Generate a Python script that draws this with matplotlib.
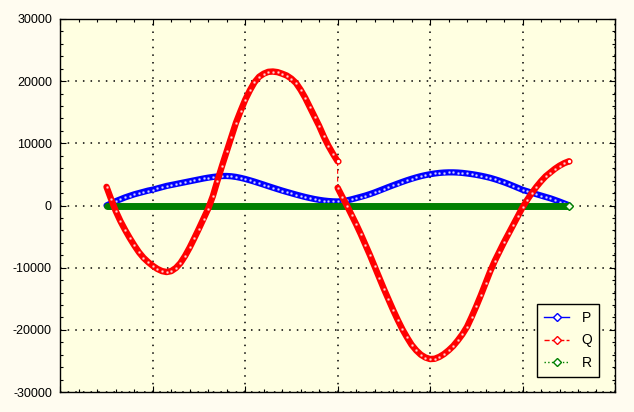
import matplotlib
matplotlib.use("Agg")
import matplotlib.pyplot as plt
from matplotlib.lines import Line2D
import numpy as np

# sample grid (step 0.5)
x_p = np.linspace(5, 55, 101)
x_q1 = np.linspace(5, 30, 51)
x_q2 = np.linspace(30, 55, 51)

p_vals = [0, 350, 700, 1000, 1300, 1550, 1800, 2000, 2200, 2400,
          2550, 2750, 2950, 3150, 3300, 3450, 3600, 3750, 3900, 4050,
          4200, 4350, 4480, 4590, 4680, 4740, 4750, 4700, 4600, 4450,
          4270, 4060, 3840, 3600, 3360, 3110, 2870, 2630, 2400, 2180,
          1970, 1760, 1560, 1370, 1200, 1040, 910, 800, 720, 670,
          650, 700, 820, 990, 1190, 1390, 1600, 1840, 2100, 2390,
          2680, 2970, 3250, 3530, 3800, 4060, 4300, 4520, 4720, 4890,
          5030, 5150, 5240, 5300, 5330, 5330, 5300, 5240, 5150, 5050,
          4930, 4790, 4630, 4450, 4230, 3990, 3730, 3450, 3150, 2840,
          2530, 2290, 2050, 1820, 1600, 1380, 1160, 900, 630, 340,
          50]

q_vals1 = [3000, 1000, -900, -2500, -3900, -5200, -6400, -7500, -8400, -9100,
           -9700, -10200, -10550, -10700, -10550, -10050, -9250, -8100, -6750, -5250,
           -3700, -2100, -500, 1500, 4000, 6400, 8700, 11000, 13300, 15200,
           17000, 18500, 19800, 20700, 21200, 21500, 21550, 21450, 21200, 20900,
           20400, 19700, 18600, 17300, 15800, 14300, 12800, 11100, 9600, 8300,
           7100]

q_vals2 = [2850, 1400, 0, -1500, -3000, -4600, -6300, -8000, -9800, -11600,
           -13400, -15100, -16800, -18400, -19900, -21200, -22400, -23300, -24000, -24450,
           -24700, -24650, -24350, -23900, -23300, -22600, -21700, -20700, -19500, -17900,
           -16200, -14400, -12500, -10600, -8900, -7400, -5900, -4500, -3100, -1700,
           -300, 900, 2000, 3000, 3900, 4700, 5300, 5900, 6400, 6800,
           7100]

r_vals = [0] * len(x_p)

labels = ["P", "Q", "R"]
yticks = [-30000, -20000, -10000, 0, 10000, 20000, 30000]

fig = plt.figure(figsize=(6.34, 4.12), dpi=100, facecolor="#fffcf0")
ax = fig.add_axes([0.0951, 0.0485, 0.8749, 0.9054])
ax.set_facecolor("#ffffe1")

blue, red, green = "#0000ff", "#ff0000", "#008000"

# P
ax.plot(x_p, p_vals, color=blue, lw=4.5, solid_capstyle="round", zorder=2)
ax.plot(x_p, p_vals, ls="none", marker="o", ms=0.9, color="white", alpha=0.6,
        zorder=2.1)

# R
ax.plot(x_p, r_vals, color=green, lw=5.0, solid_capstyle="round", zorder=3)
ax.plot(x_p[-1:], r_vals[-1:], ls="none", marker="D", ms=4, mfc="#f0ffe0",
        mec=green, mew=1, zorder=3.1)

# Q: thin dashed through both pieces, thick band for each piece
ax.plot(np.concatenate([x_q1, x_q2]), q_vals1 + q_vals2, color=red, lw=0.8,
        ls=(0, (4, 3)), zorder=4)
for xs, ys in [(x_q1, q_vals1), (x_q2, q_vals2)]:
    ax.plot(xs, ys, color=red, lw=4.6, solid_capstyle="round", zorder=4.1)
    ax.plot(xs, ys, ls="none", marker="o", ms=0.9, color="white", alpha=0.6,
            zorder=4.2)
    ax.plot(xs[-1:], ys[-1:], ls="none", marker="o", ms=3.4, mfc="white",
            mec=red, mew=1, zorder=4.3)

ax.set_xlim(0, 60)
ax.set_ylim(-30000, 30000)
ax.set_xticks([0, 10, 20, 30, 40, 50, 60])
ax.set_xticks(np.arange(0, 61, 2), minor=True)
ax.set_yticks(yticks)
ax.set_yticks(np.arange(-30000, 30001, 2000), minor=True)
ax.set_xticklabels([])
ax.set_yticklabels([str(v) for v in yticks], fontfamily="Liberation Sans",
                   fontsize=9)
ax.tick_params(which="both", direction="in", top=True, right=True,
               color="black", width=0.8)
ax.tick_params(which="major", length=4, pad=6)
ax.tick_params(which="minor", length=2)
for s in ax.spines.values():
    s.set_linewidth(1.0)
    s.set_color("black")

ax.grid(True, which="major", color="black", lw=1.1, ls=(0, (1, 4)))
ax.set_axisbelow(True)

handles = [
    Line2D([], [], color=blue, lw=1, ls="-", marker="D", ms=4, mfc="white", mec=blue),
    Line2D([], [], color=red, lw=1, ls="--", marker="D", ms=4, mfc="white", mec=red),
    Line2D([], [], color=green, lw=1, ls=":", marker="D", ms=4, mfc="white", mec=green),
]
leg = ax.legend(handles, labels, loc="lower right", bbox_to_anchor=(0.972, 0.041),
                fancybox=False, edgecolor="black", facecolor="#ffffe1",
                framealpha=1, handlelength=1.8, handletextpad=0.9,
                labelspacing=0.6, borderpad=0.5, borderaxespad=0,
                prop={"family": "Liberation Sans", "size": 10})
leg.get_frame().set_linewidth(1.0)
leg.set_zorder(10)

fig.savefig("out.png", dpi=100, facecolor=fig.get_facecolor())
